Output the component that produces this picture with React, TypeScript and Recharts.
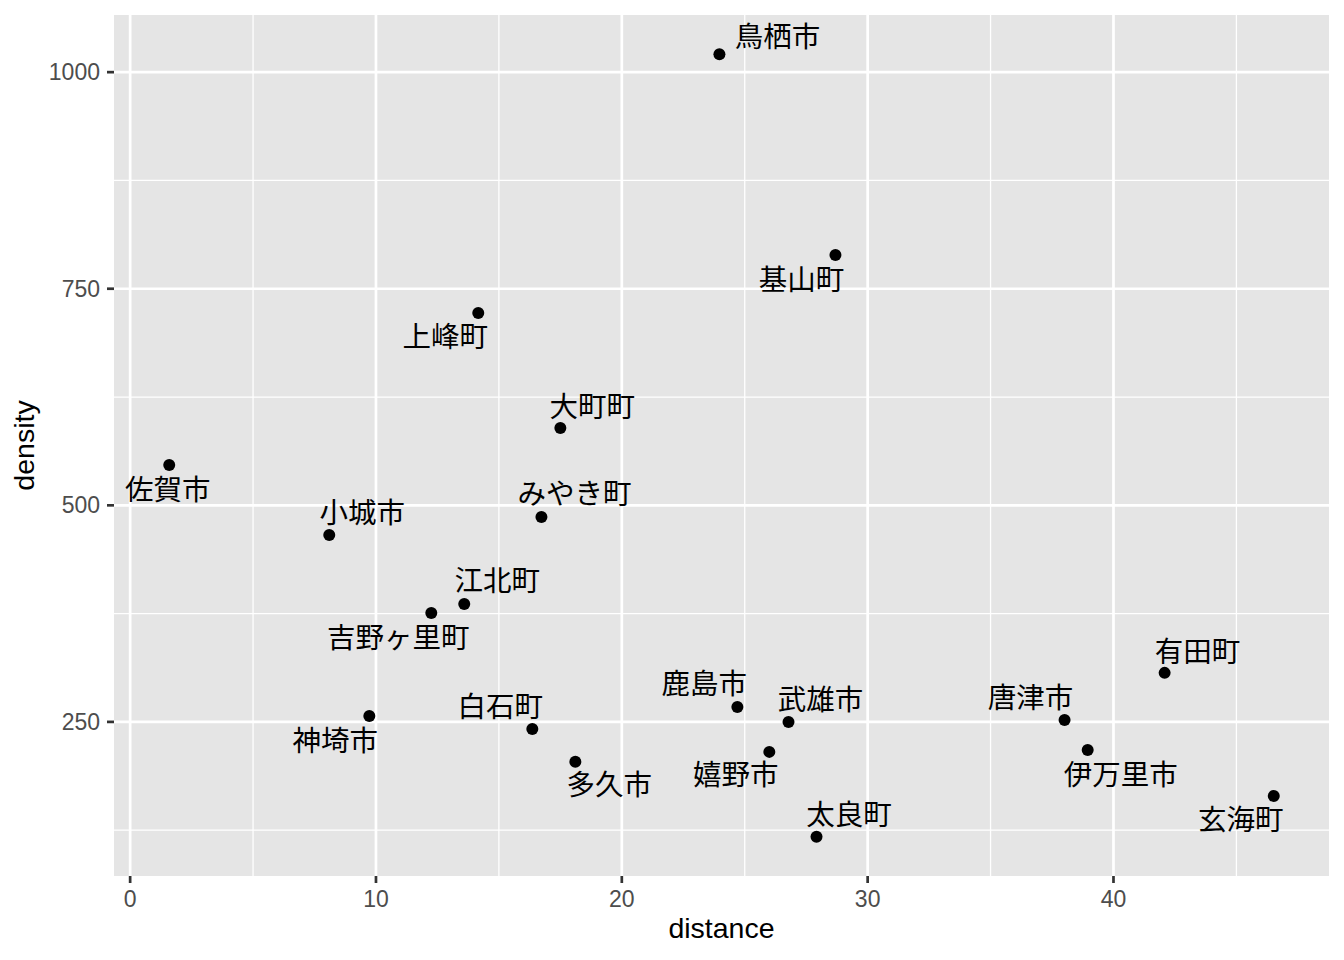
import { ScatterChart, Scatter, XAxis, YAxis, CartesianGrid } from "recharts";

// towns in Saga prefecture: distance from Saga city vs population density
const TOWNS = [
  "鳥栖市", "基山町", "上峰町", "大町町", "佐賀市", "みやき町", "小城市",
  "江北町", "吉野ヶ里町", "有田町", "鹿島市", "神埼市", "武雄市", "唐津市",
  "白石町", "嬉野市", "伊万里市", "多久市", "玄海町", "太良町",
];
const DISTANCE = [
  23.97, 28.69, 14.16, 17.5, 1.59, 16.73, 8.1,
  13.59, 12.25, 42.08, 24.7, 9.73, 26.78, 38.01,
  16.36, 26.0, 38.95, 18.11, 46.52, 27.92,
];
const DENSITY = [
  1020.8, 788.9, 721.9, 589.2, 546.6, 486.6, 465.8,
  386.2, 375.8, 306.6, 267.3, 256.9, 250.0, 252.3,
  241.9, 215.4, 217.7, 203.9, 164.6, 117.3,
];

// repelled label offsets (px) from each point
const LABEL_DX = [
  58, -34, -33, 32, -1.5, 33, 33,
  33, -33, 33, -33, -34, 32, -34,
  -32, -33.5, 33, 34, -33, 32.5,
];
const LABEL_DY = [
  -18, 24, 23, -22, 25, -23, -22,
  -23, 25, -21, -23, 25, -22, -22,
  -22, 23, 25, 23, 24, -22,
];

const X_TICKS = [0, 10, 20, 30, 40];
const X_MINOR = [5, 15, 25, 35, 45];
const Y_TICKS = [250, 500, 750, 1000];
const Y_MINOR = [125, 375, 625, 875];

const data = TOWNS.map((name, i) => ({
  name,
  distance: DISTANCE[i],
  density: DENSITY[i],
  dx: LABEL_DX[i],
  dy: LABEL_DY[i],
}));

function expand(vals: number[]): [number, number] {
  const lo = Math.min(...vals);
  const hi = Math.max(...vals);
  const pad = (hi - lo) * 0.05;
  return [lo - pad, hi + pad];
}

const SANS = "'Liberation Sans', Arial, Helvetica, sans-serif";
const CJK = "'Noto Sans CJK JP', 'Noto Sans CJK SC', sans-serif";

const Point = (props: any) => {
  const { cx, cy, payload } = props;
  if (cx == null || cy == null) return null;
  return (
    <g>
      <circle cx={cx} cy={cy} r={6} fill="#000" />
      <text
        x={cx + payload.dx}
        y={cy + payload.dy}
        dy="0.37em"
        textAnchor="middle"
        fontFamily={CJK}
        fontSize={28.5}
        fill="#000"
      >
        {payload.name}
      </text>
    </g>
  );
};

const XTitle = (props: any) => {
  const { x, y, width } = props.viewBox;
  return (
    <text x={x + width / 2} y={y + 62} textAnchor="middle" fontFamily={SANS} fontSize={28.5} fill="#000">
      distance
    </text>
  );
};

const YTitle = (props: any) => {
  const { y, height } = props.viewBox;
  const cy = y + height / 2;
  return (
    <text
      x={25.5}
      y={cy}
      transform={`rotate(-90, 25.5, ${cy})`}
      textAnchor="middle"
      fontFamily={SANS}
      fontSize={28.5}
      fill="#000"
    >
      density
    </text>
  );
};

export default function App() {
  const tickStyle = { fill: "#4D4D4D", fontSize: 23, fontFamily: SANS };
  const tickLine = { stroke: "#333333", strokeWidth: 2.7 };
  return (
    <div style={{ width: 1328, height: 944 }}>
      <ScatterChart width={1328} height={944} margin={{ top: 7, right: 7, bottom: 0, left: 0 }}>
        <CartesianGrid
          fill="#E5E5E5"
          fillOpacity={1}
          stroke="#FFFFFF"
          strokeWidth={1.3}
          horizontalValues={Y_MINOR}
          verticalValues={X_MINOR}
        />
        <CartesianGrid
          stroke="#FFFFFF"
          strokeWidth={2.7}
          horizontalValues={Y_TICKS}
          verticalValues={X_TICKS}
        />
        <XAxis
          type="number"
          dataKey="distance"
          domain={expand(DISTANCE)}
          allowDataOverflow
          ticks={X_TICKS}
          height={76}
          axisLine={false}
          tickLine={tickLine}
          tickSize={7}
          tickMargin={8}
          tick={tickStyle}
          label={XTitle}
        />
        <YAxis
          type="number"
          dataKey="density"
          domain={expand(DENSITY)}
          allowDataOverflow
          ticks={Y_TICKS}
          width={106}
          axisLine={false}
          tickLine={tickLine}
          tickSize={7}
          tickMargin={7}
          tick={tickStyle}
          label={YTitle}
        />
        <Scatter data={data} shape={Point} isAnimationActive={false} />
      </ScatterChart>
    </div>
  );
}
